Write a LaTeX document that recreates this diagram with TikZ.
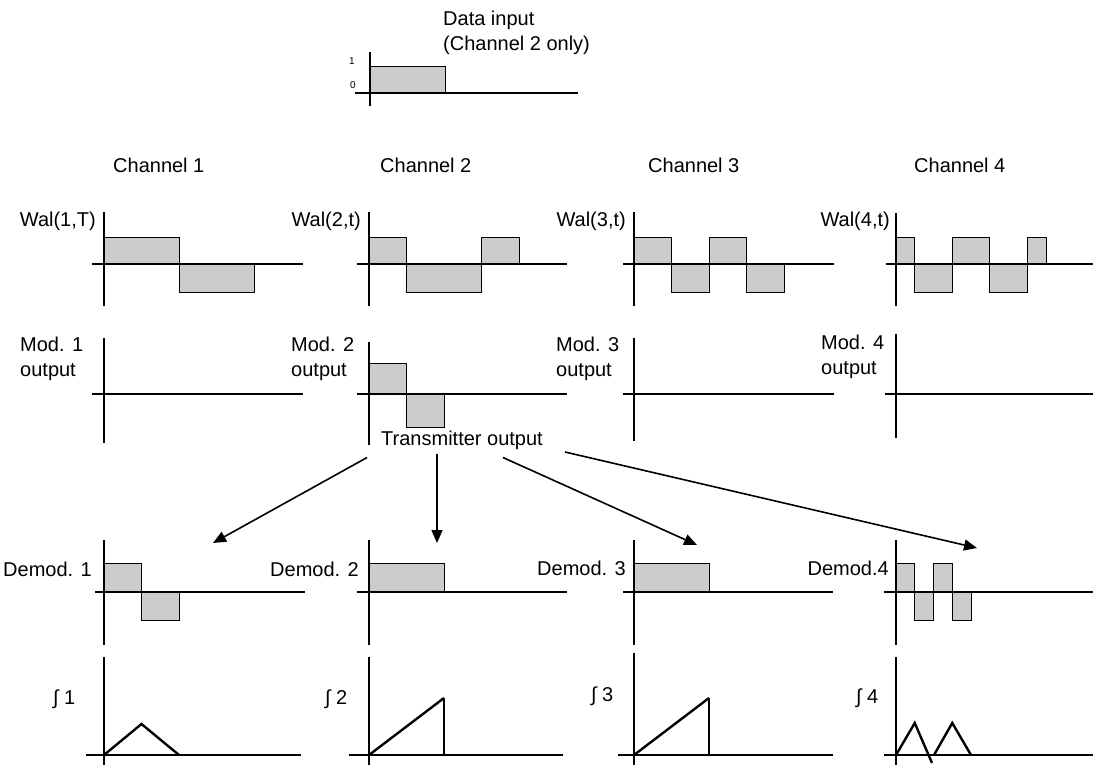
\documentclass[tikz,border=0pt]{standalone}
\usepackage{fontspec}
\setmainfont{Liberation Sans}
\usepackage{tikz}
\usetikzlibrary{positioning,arrows.meta,calc}

\begin{document}
\begin{tikzpicture}[x=1pt, y=-1pt, >={Triangle[length=13pt,width=11pt]},
    every node/.style={font=\fontsize{20}{25}\selectfont, inner sep=0pt, align=left},
    ax/.style={line width=1.2pt},
    wave/.style={draw, line width=1pt, fill=black!20},
    integ/.style={line width=2.4pt, line join=miter},
    tiny01/.style={font=\fontsize{10}{12}\selectfont}]

  \useasboundingbox (0,0) rectangle (1093,765);

  %% ─── Data input ─────────────────────────────────────────────────────────
  \node[anchor=north west] (din) at (443,11) {Data input\\(Channel 2 only)};
  \node[tiny01] (din1) at (352,61) {1};
  \node[tiny01] (din0) at (353,85) {0};
  \draw[wave] (370,93) rectangle (445,67);
  \draw[ax] (370,52) -- (370,106);
  \draw[ax] (355,93) -- (578,93);

  %% ─── Channel headings ───────────────────────────────────────────────────
  \node[anchor=west] (ch1) at (113,165) {Channel 1};
  \node[anchor=west] (ch2) at (380,165) {Channel 2};
  \node[anchor=west] (ch3) at (648,165) {Channel 3};
  \node[anchor=west] (ch4) at (914,165) {Channel 4};

  %% ─── Walsh row ──────────────────────────────────────────────────────────
  \node[anchor=east] (wal1) at (96,221) {Wal(1,T)};
  \draw[wave] (104,264) rectangle (179,237);
  \draw[wave] (179,264) rectangle (254,292);
  \draw[ax] (104,212) -- (104,306);
  \draw[ax] (92,264) -- (303,264);

  \node[anchor=east] (wal2) at (361,221) {Wal(2,t)};
  \draw[wave] (369,264) rectangle (406.5,237);
  \draw[wave] (406.5,264) rectangle (481.5,292);
  \draw[wave] (481.5,264) rectangle (519,237);
  \draw[ax] (369,212) -- (369,306);
  \draw[ax] (357,264) -- (567,264);

  \node[anchor=east] (wal3) at (626,221) {Wal(3,t)};
  \draw[wave] (634,264) rectangle (671.5,237);
  \draw[wave] (671.5,264) rectangle (709,292);
  \draw[wave] (709,264) rectangle (746.5,237);
  \draw[wave] (746.5,264) rectangle (784,292);
  \draw[ax] (634,212) -- (634,306);
  \draw[ax] (623,264) -- (834,264);

  \node[anchor=east] (wal4) at (890,221) {Wal(4,t)};
  \draw[wave] (896,264) rectangle (914.75,237);
  \draw[wave] (914.75,264) rectangle (952.25,292);
  \draw[wave] (952.25,264) rectangle (989.75,237);
  \draw[wave] (989.75,264) rectangle (1027.25,292);
  \draw[wave] (1027.25,264) rectangle (1046,237);
  \draw[ax] (896,213) -- (896,306);
  \draw[ax] (886,264) -- (1093,264);

  %% ─── Modulator row ──────────────────────────────────────────────────────
  \node[anchor=north west] (mod1) at (20,337) {Mod. 1\\output};
  \draw[ax] (104,338) -- (104,443);
  \draw[ax] (92,394) -- (303,394);

  \node[anchor=north west] (mod2) at (291,337) {Mod. 2\\output};
  \draw[wave] (369,394) rectangle (406.5,363);
  \draw[wave] (406.5,394) rectangle (444,427);
  \draw[ax] (369,342) -- (369,445);
  \draw[ax] (357,394) -- (567,394);

  \node[anchor=north west] (mod3) at (556,337) {Mod. 3\\output};
  \draw[ax] (634,338) -- (634,441);
  \draw[ax] (623,394) -- (834,394);

  \node[anchor=north west] (mod4) at (821,335) {Mod. 4\\output};
  \draw[ax] (896,334) -- (896,438);
  \draw[ax] (885,394) -- (1093,394);

  %% ─── Transmitter output to the demodulators ─────────────────────────────
  \node (tx) at (462,440) {Transmitter output};
  \coordinate (d1) at (213,543);
  \coordinate (d2) at (437,543);
  \coordinate (d3) at (697,545);
  \coordinate (d4) at (977,548);
  \draw[->, line width=1.6pt] ($(tx.south west)+(-14,8)$) -- (d1);
  \draw[->, line width=1.6pt] ($(tx.south)+(-25,4)$) -- (d2);
  \draw[->, line width=1.6pt] ($(tx.south)+(41,8)$) -- (d3);
  \draw[->, line width=1.6pt] ($(tx.east)+(22,12)$) -- (d4);

  %% ─── Demodulator row ────────────────────────────────────────────────────
  \node[anchor=east] (dem1) at (92,569) {Demod. 1};
  \draw[wave] (104,592) rectangle (141.5,563);
  \draw[wave] (141.5,592) rectangle (179,620);
  \draw[ax] (104,540) -- (104,645);
  \draw[ax] (95,592) -- (305,592);

  \node[anchor=east] (dem2) at (359,569) {Demod. 2};
  \draw[wave] (369,592) rectangle (444,563);
  \draw[ax] (369,540) -- (369,645);
  \draw[ax] (357,592) -- (567,592);

  \node[anchor=east] (dem3) at (626,568) {Demod. 3};
  \draw[wave] (634,592) rectangle (709,563);
  \draw[ax] (634,540) -- (634,645);
  \draw[ax] (623,592) -- (833,592);

  \node[anchor=east] (dem4) at (889,568) {Demod.4};
  \draw[wave] (896,592) rectangle (914.75,563);
  \draw[wave] (914.75,592) rectangle (933.5,620);
  \draw[wave] (933.5,592) rectangle (952.25,563);
  \draw[wave] (952.25,592) rectangle (971,620);
  \draw[ax] (896,540) -- (896,645);
  \draw[ax] (884,592) -- (1093,592);

  %% ─── Integrator row ─────────────────────────────────────────────────────
  \node[anchor=west] (int1) at (53,699) {∫ 1};
  \draw[ax] (104,657) -- (104,768);
  \draw[ax] (86,755) -- (301,755);
  \draw[integ] (104,755) -- (141.5,724) -- (179,755);

  \node[anchor=west] (int2) at (325,699) {∫ 2};
  \draw[ax] (369,657) -- (369,768);
  \draw[ax] (349,755) -- (563,755);
  \draw[integ] (369,755) -- (444,698);
  \draw[ax] (444,698) -- (444,755);

  \node[anchor=west] (int3) at (591,696) {∫ 3};
  \draw[ax] (634,653) -- (634,768);
  \draw[ax] (618,755) -- (833,755);
  \draw[integ] (634,755) -- (709,698);
  \draw[ax] (709,698) -- (709,755);

  \node[anchor=west] (int4) at (856,698) {∫ 4};
  \draw[ax] (896,657) -- (896,768);
  \draw[ax] (884,755) -- (1093,755);
  \draw[integ] (896,755) -- (914.75,723) -- (932,763);
  \draw[integ] (934,755) -- (952.25,723) -- (971,755);

\end{tikzpicture}
\end{document}
